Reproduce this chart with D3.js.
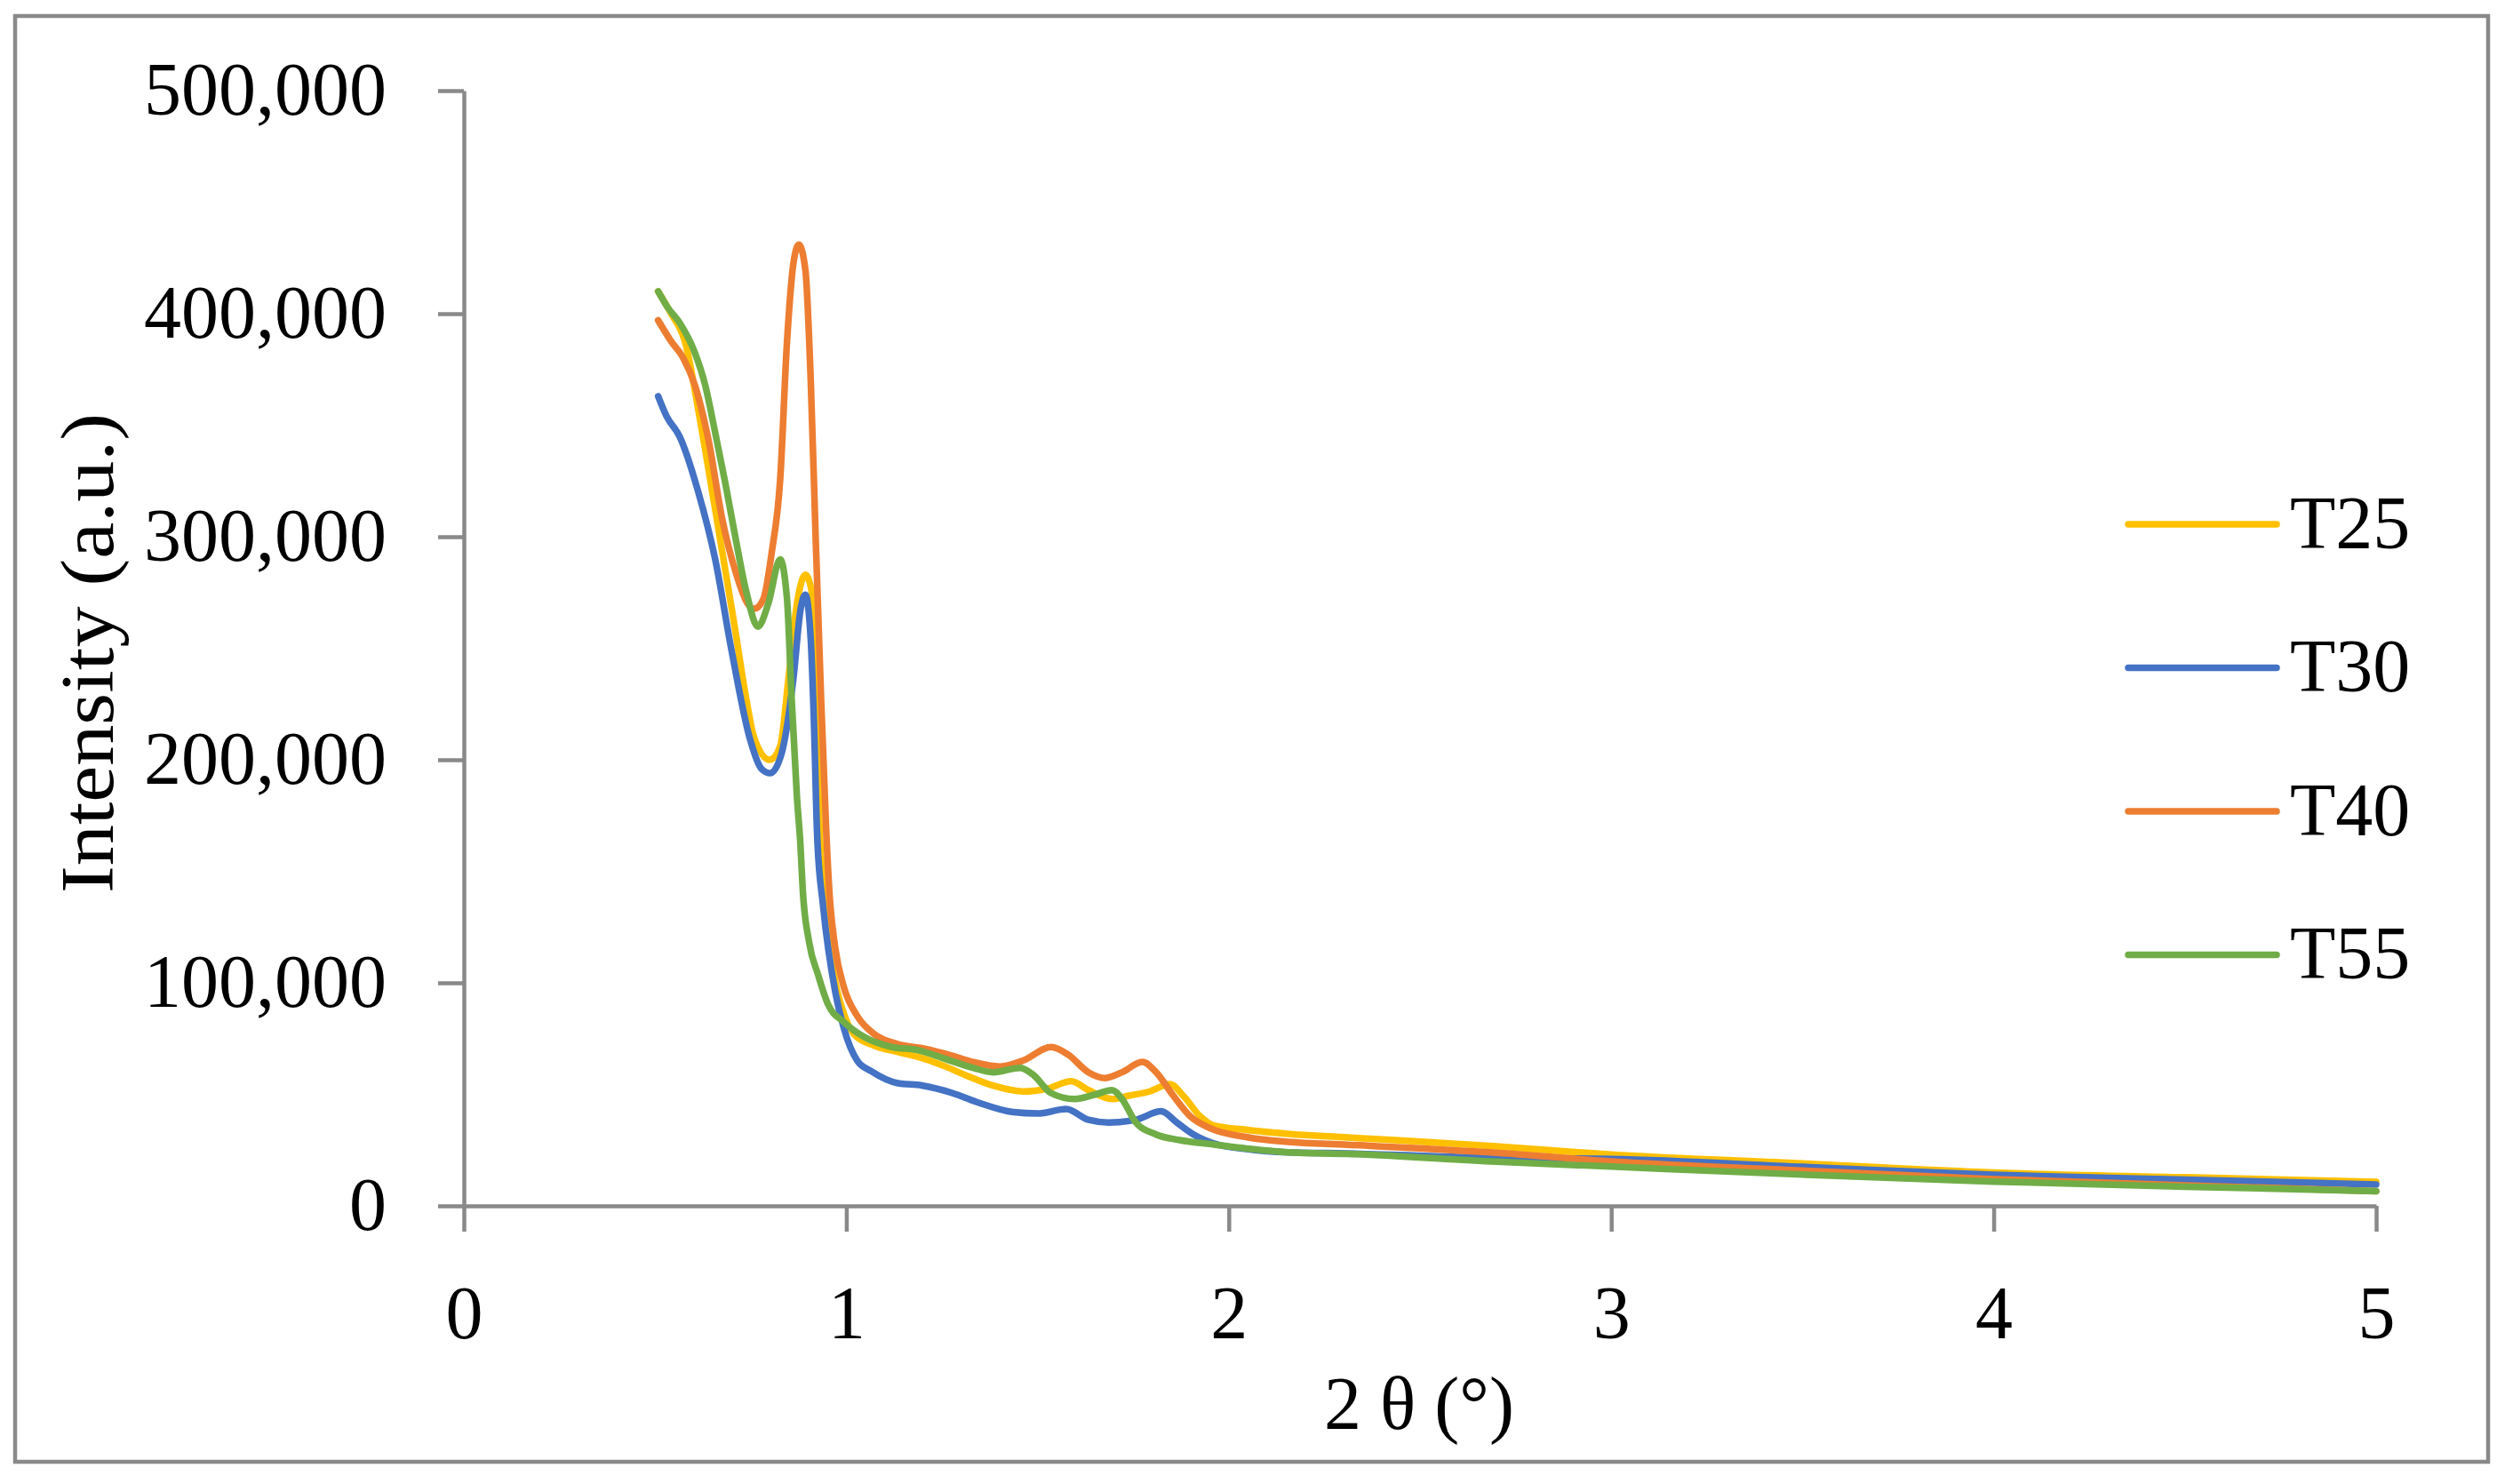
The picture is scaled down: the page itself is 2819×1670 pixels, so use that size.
<!DOCTYPE html>
<html>
<head>
<meta charset="utf-8">
<script src="https://cdn.jsdelivr.net/npm/d3@7"></script>
<style>
  body { margin: 0; background: white; }
  text { font-family: "Liberation Serif", "Times New Roman", serif; fill: black; }
</style>
</head>
<body>
<div id="graf"></div>
<script>
// Datos (2θ, intensidad)
const series = ["T25", "T30", "T40", "T55"]
const colores = ["#FFC000", "#4472C4", "#ED7D31", "#70AD47"]

const t25 = [
  [0.508, 410000], [0.542, 400000], [0.578, 387600], [0.618, 352000], [0.653, 316500],
  [0.706, 262000], [0.738, 227600], [0.759, 210000], [0.8, 200000], [0.827, 206000],
  [0.849, 236700], [0.871, 270000], [0.893, 283000], [0.91, 275000], [0.92, 225000],
  [0.93, 170000], [0.945, 135000], [0.966, 105000], [0.993, 86500], [1.02, 77000],
  [1.073, 71800], [1.135, 69000], [1.205, 65900], [1.259, 62500], [1.312, 58600],
  [1.384, 53900], [1.463, 51300], [1.526, 52600], [1.588, 55900], [1.633, 51900],
  [1.695, 47900], [1.739, 49400], [1.793, 51300], [1.846, 54600], [1.881, 49400],
  [1.926, 40000], [1.961, 36000], [2.051, 34000], [2.155, 32300], [2.31, 30700],
  [2.7, 26700], [3.0, 23000], [3.5, 19000], [4.0, 14900], [4.5, 12800], [5.0, 10800],
]

const t30 = [
  [0.508, 363000], [0.53, 354000], [0.564, 345000], [0.613, 320000], [0.657, 290000],
  [0.7, 249000], [0.747, 210000], [0.778, 196000], [0.801, 194000], [0.831, 203000],
  [0.862, 237000], [0.88, 267000], [0.893, 274000], [0.907, 254000], [0.915, 219000],
  [0.924, 165000], [0.939, 135000], [0.971, 96000], [0.993, 80000], [1.029, 65000],
  [1.064, 60500], [1.135, 55000], [1.197, 54000], [1.277, 50600], [1.34, 46600],
  [1.437, 42000], [1.5, 41400], [1.575, 43400], [1.633, 38600], [1.686, 37400],
  [1.757, 38600], [1.823, 42400], [1.864, 37400], [1.908, 32000], [1.961, 28000],
  [2.05, 25400], [2.155, 24000], [2.31, 23500], [2.7, 21500], [3.0, 21000],
  [3.5, 17500], [4.0, 13900], [4.5, 11800], [5.0, 9600],
]

const t40 = [
  [0.508, 397000], [0.542, 387600], [0.574, 380000], [0.604, 368000], [0.64, 343000],
  [0.676, 307600], [0.711, 284000], [0.742, 270000], [0.759, 267700], [0.783, 272000],
  [0.805, 293000], [0.827, 325500], [0.845, 387600], [0.862, 423000], [0.876, 431000],
  [0.893, 419600], [0.907, 370000], [0.92, 298800], [0.934, 227600], [0.947, 170000],
  [0.956, 140000], [0.971, 115700], [0.993, 98400], [1.029, 85000], [1.073, 77000],
  [1.135, 72500], [1.205, 70500], [1.268, 67800], [1.331, 64500], [1.402, 62500],
  [1.463, 65200], [1.535, 71200], [1.58, 67800], [1.633, 59900], [1.677, 57300],
  [1.721, 59900], [1.774, 64500], [1.81, 59900], [1.855, 49400], [1.9, 40000],
  [1.953, 34700], [2.051, 30700], [2.155, 28700], [2.31, 27400], [2.7, 23800],
  [3.0, 19900], [3.5, 15800], [4.0, 12000], [4.5, 9200], [5.0, 6600],
]

const t55 = [
  [0.508, 410000], [0.533, 402800], [0.565, 395700], [0.604, 382500], [0.631, 368000],
  [0.657, 346800], [0.684, 323700], [0.711, 298800], [0.738, 275700], [0.769, 259700],
  [0.796, 270000], [0.827, 289800], [0.845, 272000], [0.857, 227600], [0.871, 183000],
  [0.88, 162000], [0.886, 142000], [0.903, 118000], [0.926, 103700], [0.952, 90400],
  [0.993, 82500], [1.046, 75800], [1.117, 71300], [1.188, 69800], [1.259, 65900],
  [1.331, 61900], [1.384, 59900], [1.455, 61900], [1.49, 58600], [1.535, 50600],
  [1.597, 47900], [1.65, 49900], [1.695, 51900], [1.721, 47900], [1.757, 37400],
  [1.81, 32000], [1.872, 29500], [1.961, 27500], [2.051, 25600], [2.155, 24000],
  [2.31, 23300], [2.7, 19800], [3.0, 17600], [3.5, 14000], [4.0, 10900],
  [4.5, 8600], [5.0, 6600],
]

const xTicks = [0, 1, 2, 3, 4, 5]
const yTicks = [0, 100000, 200000, 300000, 400000, 500000]

const datos = [t25, t30, t40, t55]

// Dimensiones
const anchoTotal = 2819
const altoTotal = 1670
const margins = { top: 102, right: 145, bottom: 313, left: 522 }
const ancho = anchoTotal - margins.left - margins.right
const alto = altoTotal - margins.top - margins.bottom
const gris = "#898989"
const fontSize = 84

const svg = d3
  .select("#graf")
  .append("svg")
  .attr("width", anchoTotal)
  .attr("height", altoTotal)

svg
  .append("rect")
  .attr("width", anchoTotal)
  .attr("height", altoTotal)
  .attr("fill", "white")

// Marco
svg
  .append("rect")
  .attr("x", 17)
  .attr("y", 18)
  .attr("width", 2783)
  .attr("height", 1627)
  .attr("fill", "none")
  .attr("stroke", gris)
  .attr("stroke-width", 4.5)

const g = svg
  .append("g")
  .attr("transform", `translate(${margins.left}, ${margins.top})`)

// Escaladores
const x = d3.scaleLinear().domain([0, 5]).range([0, ancho])
const y = d3.scaleLinear().domain([0, 500000]).range([alto, 0])

// Ejes
const yAxis = d3
  .axisLeft(y)
  .tickValues(yTicks)
  .tickFormat(d3.format(","))
  .tickSize(29)
  .tickSizeOuter(0)
  .tickPadding(58)
const xAxis = d3
  .axisBottom(x)
  .tickValues(xTicks)
  .tickFormat(d3.format("d"))
  .tickSize(29)
  .tickSizeOuter(0)
  .tickPadding(60)

const yAxisGroup = g.append("g").call(yAxis)
const xAxisGroup = g.append("g").attr("transform", `translate(0, ${alto})`).call(xAxis)

;[xAxisGroup, yAxisGroup].forEach((ax) => {
  ax.select(".domain").attr("stroke", gris).attr("stroke-width", 4.5)
  ax.selectAll(".tick line").attr("stroke", gris).attr("stroke-width", 4.5)
  ax.selectAll(".tick text")
    .attr("font-family", "'Liberation Serif', serif")
    .attr("font-size", fontSize)
    .attr("fill", "black")
})

// Líneas
const linea = d3
  .line()
  .x((d) => x(d[0]))
  .y((d) => y(d[1]))
  .curve(d3.curveMonotoneX)

g.selectAll("path.serie")
  .data(datos)
  .enter()
  .append("path")
  .attr("class", "serie")
  .attr("d", linea)
  .attr("fill", "none")
  .attr("stroke", (d, i) => colores[i])
  .attr("stroke-width", 7.5)
  .attr("stroke-linejoin", "round")
  .attr("stroke-linecap", "round")

// Títulos de ejes
svg
  .append("text")
  .attr("transform", "translate(127, 735) rotate(-90)")
  .attr("text-anchor", "middle")
  .attr("font-size", fontSize)
  .attr("textLength", 540)
  .attr("lengthAdjust", "spacingAndGlyphs")
  .text("Intensity (a.u.)")

svg
  .append("text")
  .attr("x", 1597)
  .attr("y", 1608)
  .attr("text-anchor", "middle")
  .attr("font-size", fontSize)
  .text("2 θ (°)")

// Leyenda
const leyenda = svg
  .append("g")
  .selectAll("g")
  .data(series)
  .enter()
  .append("g")
  .attr("transform", (d, i) => `translate(2395, ${590 + i * 161.5})`)

leyenda
  .append("line")
  .attr("x1", 0)
  .attr("x2", 167)
  .attr("stroke", (d, i) => colores[i])
  .attr("stroke-width", 7.5)
  .attr("stroke-linecap", "round")

leyenda
  .append("text")
  .attr("x", 182)
  .attr("dy", "0.32em")
  .attr("font-size", fontSize)
  .text((d) => d)
</script>
</body>
</html>
